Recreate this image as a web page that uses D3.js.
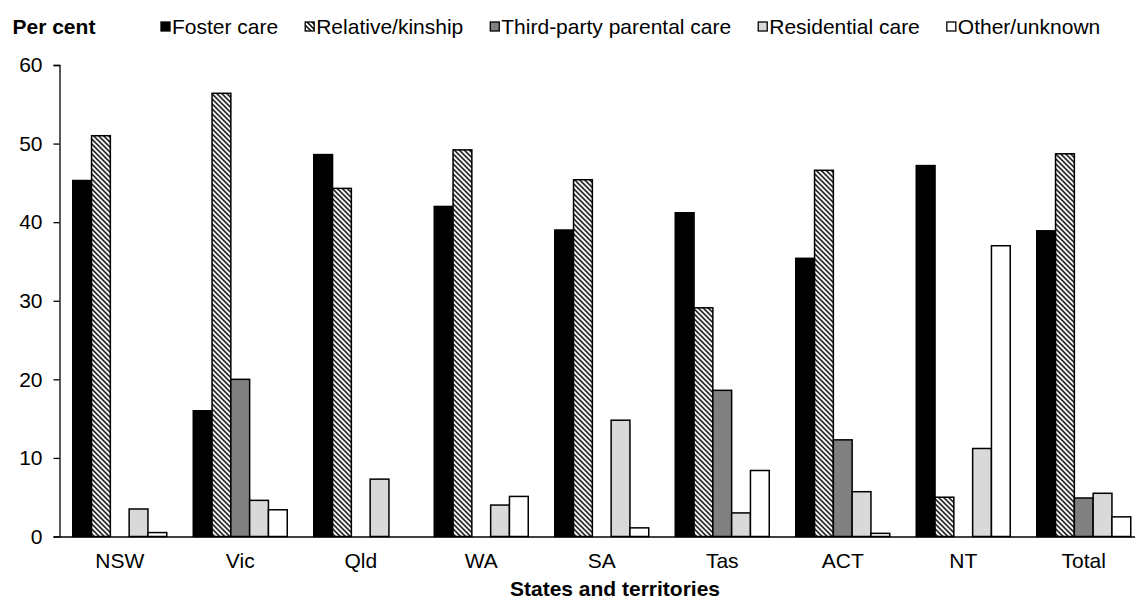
<!DOCTYPE html>
<html>
<head>
<meta charset="utf-8">
<script src="https://cdn.jsdelivr.net/npm/d3@7"></script>
<style>
  body { margin: 0; background: #fff; }
  svg text { font-family: "Liberation Sans", Arial, sans-serif; }
</style>
</head>
<body>
<svg id="chart" width="1135" height="599"></svg>
<script>
var states = ["NSW", "Vic", "Qld", "WA", "SA", "Tas", "ACT", "NT", "Total"];
var careTypes = ["Foster care", "Relative/kinship", "Third-party parental care", "Residential care", "Other/unknown"];
var fosterCare = [45.3, 16.0, 48.6, 42.0, 39.0, 41.2, 35.4, 47.2, 38.9];
var relativeKinship = [51.0, 56.4, 44.3, 49.2, 45.4, 29.1, 46.6, 5.0, 48.7];
var thirdParty = [0, 20.0, 0, 0, 0, 18.6, 12.3, 0, 4.9];
var residential = [3.5, 4.6, 7.3, 4.0, 14.8, 3.0, 5.7, 11.2, 5.5];
var otherUnknown = [0.5, 3.4, 0, 5.1, 1.1, 8.4, 0.4, 37.0, 2.5];
var yTicks = [0, 10, 20, 30, 40, 50, 60];

var series = [fosterCare, relativeKinship, thirdParty, residential, otherUnknown];
var fills = ["#000000", "url(#hatch)", "#808080", "#d9d9d9", "#ffffff"];

var svg = d3.select("#chart");
var fontSize = 21;

// diagonal hatch for relative/kinship
var defs = svg.append("defs");
var pat = defs.append("pattern").attr("id", "hatch").attr("patternUnits", "userSpaceOnUse")
    .attr("width", 5).attr("height", 5);
pat.append("rect").attr("width", 5).attr("height", 5).style("fill", "white");
pat.append("path").attr("d", "M0,0L5,5M-1,4L1,6M4,-1L6,1")
    .style("stroke", "black").style("stroke-width", 1.5);

var plotLeft = 59.5, plotRight = 1144, plotTop = 65, plotBottom = 536.5;

var x = d3.scaleBand().domain(states).range([plotLeft, plotRight]).paddingInner(0.22).paddingOuter(0.11);
var xInner = d3.scaleBand().domain(d3.range(careTypes.length)).range([0, x.bandwidth()]);
var y = d3.scaleLinear().domain([0, 60]).range([plotBottom, plotTop]);

// bars
var groups = svg.selectAll(".state").data(states).enter().append("g")
    .attr("class", "state")
    .attr("transform", function (d) { return "translate(" + x(d) + ",0)"; });

groups.each(function (s, i) {
    var g = d3.select(this);
    series.forEach(function (vals, k) {
        if (vals[i] <= 0) return;
        g.append("rect")
            .attr("x", xInner(k))
            .attr("y", y(vals[i]))
            .attr("width", xInner.bandwidth())
            .attr("height", y(0) - y(vals[i]))
            .style("fill", fills[k])
            .style("stroke", "black")
            .style("stroke-width", 1.5);
    });
});

// y axis
var yAxis = svg.append("g").attr("transform", "translate(" + plotLeft + ",0)")
    .call(d3.axisLeft(y).tickValues(yTicks).tickSize(6).tickPadding(11));
yAxis.selectAll("text").style("font-size", fontSize + "px").style("fill", "black");
yAxis.selectAll("line, path").style("stroke", "black").style("stroke-width", 1.3);

// x axis
var xAxis = svg.append("g").attr("transform", "translate(0," + plotBottom + ")")
    .call(d3.axisBottom(x).tickSize(0).tickPadding(17));
xAxis.select(".domain").style("stroke", "black").style("stroke-width", 1.3);
xAxis.selectAll("text").style("font-size", fontSize + "px").style("fill", "black");

svg.append("text").text("States and territories")
    .attr("x", 615).attr("y", 596)
    .style("text-anchor", "middle").style("font-weight", "bold").style("font-size", fontSize + "px");

svg.append("text").text("Per cent")
    .attr("x", 12.5).attr("y", 34)
    .style("font-weight", "bold").style("font-size", fontSize + "px");

// legend
var tx = 172;
careTypes.forEach(function (name, k) {
    svg.append("rect").attr("x", tx - 11).attr("y", 22).attr("width", 9).attr("height", 9)
        .style("fill", fills[k]).style("stroke", "black").style("stroke-width", 1.3);
    var t = svg.append("text").text(name).attr("x", tx).attr("y", 34)
        .style("font-size", fontSize + "px");
    tx = tx + t.node().getComputedTextLength() + 38;
});
</script>
</body>
</html>
